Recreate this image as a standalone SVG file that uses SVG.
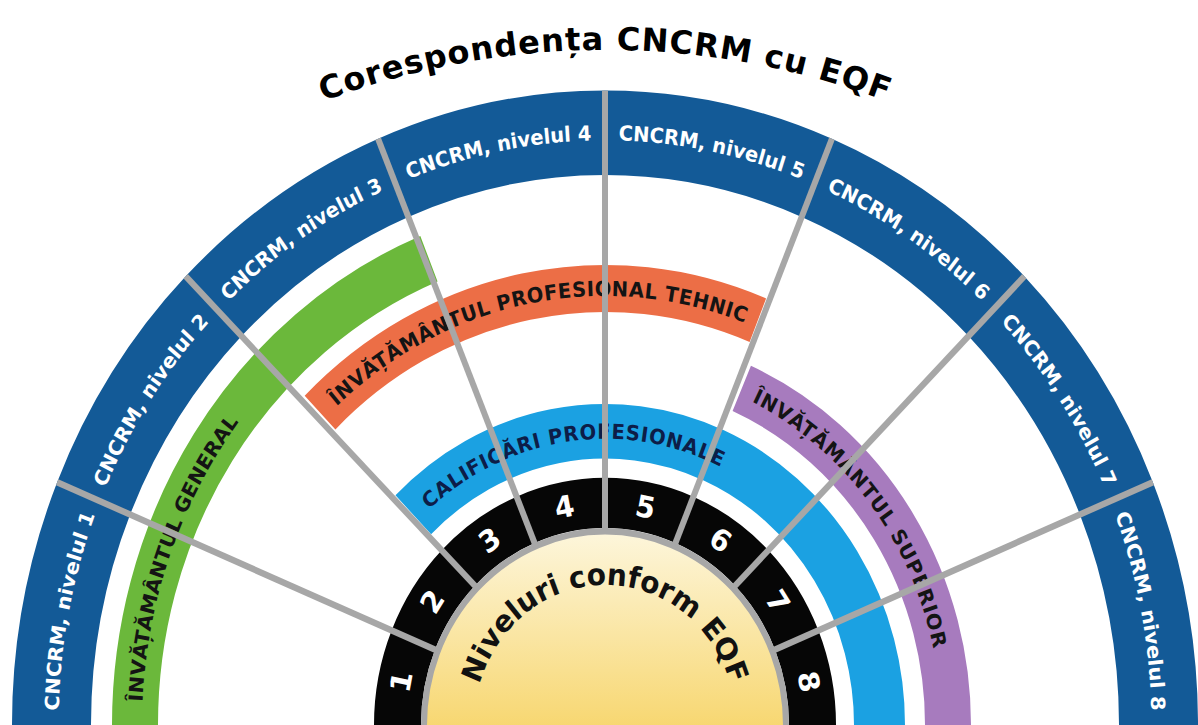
<svg xmlns="http://www.w3.org/2000/svg" width="1198" height="725" viewBox="0 0 1198 725">
<defs>
  <linearGradient id="yel" x1="0" y1="0" x2="0" y2="1">
    <stop offset="0" stop-color="#fdf6dc"/>
    <stop offset="1" stop-color="#f7d56a"/>
  </linearGradient>
  <path id="arcTitle" d="M 41.4,283.4 A 797 797 0 0 1 1168.6,283.4"/>
  <path id="arcOuter" d="M -546.5,0 A 546.5 546.5 0 0 1 546.5,0"/>
  <path id="arcGreen" d="M -463,0 A 463 463 0 0 1 463,0"/>
  <path id="arcOrange" d="M -401,0 A 401 401 0 0 1 401,0"/>
  <path id="arcPurple" d="M -336,0 A 336 336 0 0 1 336,0"/>
  <path id="arcCyan" d="M -267.5,0 A 267.5 267.5 0 0 1 267.5,0"/>
  <path id="arcInner" d="M -131,0 A 131 131 0 0 1 131,0"/>
</defs>
<style>
  .f { font-family: "DejaVu Sans", Verdana, sans-serif; font-weight: bold; }
  .seg { fill: none; stroke: #135a97; stroke-width: 79; }
  .blk { fill: none; stroke: #060606; stroke-width: 47; }
  .wl { fill: #ffffff; font-size: 19.5px; text-anchor: middle; }
  .num { fill: #ffffff; font-size: 28px; text-anchor: middle; }
  .bl { fill: #141414; font-size: 19.5px; text-anchor: middle; }
  .div line { stroke: #a7a7a7; stroke-width: 6; }
</style>
<rect width="1198" height="725" fill="#ffffff"/>

<g id="title">
  <text class="f" font-size="32" fill="#000" text-anchor="middle"><textPath href="#arcTitle" startOffset="50%" textLength="575">Corespondența CNCRM cu EQF</textPath></text>
</g>

<g transform="translate(605,725) scale(1,1.07)">
  <g id="cncrm-1"><path class="seg" d="M -553.42,9.66 A 553.5 553.5 0 0 1 -511.37,-211.81"/>
    <text class="f wl"><textPath href="#arcOuter" startOffset="6.25%">CNCRM, nivelul 1</textPath></text></g>
  <g id="cncrm-2"><path class="seg" d="M -511.37,-211.81 A 553.5 553.5 0 0 1 -391.39,-391.39"/>
    <text class="f wl"><textPath href="#arcOuter" startOffset="18.75%">CNCRM, nivelul 2</textPath></text></g>
  <g id="cncrm-3"><path class="seg" d="M -391.39,-391.39 A 553.5 553.5 0 0 1 -211.81,-511.37"/>
    <text class="f wl"><textPath href="#arcOuter" startOffset="31.25%">CNCRM, nivelul 3</textPath></text></g>
  <g id="cncrm-4"><path class="seg" d="M -211.81,-511.37 A 553.5 553.5 0 0 1 0,-553.5"/>
    <text class="f wl"><textPath href="#arcOuter" startOffset="43.75%">CNCRM, nivelul 4</textPath></text></g>
  <g id="cncrm-5"><path class="seg" d="M 0,-553.5 A 553.5 553.5 0 0 1 211.81,-511.37"/>
    <text class="f wl"><textPath href="#arcOuter" startOffset="56.25%">CNCRM, nivelul 5</textPath></text></g>
  <g id="cncrm-6"><path class="seg" d="M 211.81,-511.37 A 553.5 553.5 0 0 1 391.39,-391.39"/>
    <text class="f wl"><textPath href="#arcOuter" startOffset="68.75%">CNCRM, nivelul 6</textPath></text></g>
  <g id="cncrm-7"><path class="seg" d="M 391.39,-391.39 A 553.5 553.5 0 0 1 511.37,-211.81"/>
    <text class="f wl"><textPath href="#arcOuter" startOffset="81.25%">CNCRM, nivelul 7</textPath></text></g>
  <g id="cncrm-8"><path class="seg" d="M 511.37,-211.81 A 553.5 553.5 0 0 1 553.42,9.66"/>
    <text class="f wl"><textPath href="#arcOuter" startOffset="93.75%">CNCRM, nivelul 8</textPath></text></g>

  <g id="invatamantul-general">
    <path fill="none" stroke="#6bb83b" stroke-width="46" d="M -469.93,8.20 A 470 470 0 0 1 -176.07,-435.78"/>
    <text class="f bl"><textPath href="#arcGreen" startOffset="163.2" textLength="283">ÎNVĂȚĂMÂNTUL GENERAL</textPath></text>
  </g>
  <g id="invatamantul-profesional-tehnic">
    <path fill="none" stroke="#ec6e46" stroke-width="44" d="M -284.95,-292.00 A 408 408 0 0 1 152.84,-378.29"/>
    <text class="f bl"><textPath href="#arcOrange" startOffset="553.9" textLength="437">ÎNVĂȚĂMÂNTUL PROFESIONAL TEHNIC</textPath></text>
  </g>
  <g id="invatamantul-superior">
    <path fill="none" stroke="#a77bbe" stroke-width="46" d="M 136.77,-314.55 A 343 343 0 0 1 342.95,5.99"/>
    <text class="f bl"><textPath href="#arcPurple" startOffset="831.3" textLength="304">ÎNVĂȚĂMÂNTUL SUPERIOR</textPath></text>
  </g>
  <g id="calificari-profesionale">
    <path fill="none" stroke="#1ba1e2" stroke-width="51" d="M -191.72,-196.46 A 274.5 274.5 0 0 1 274.46,4.79"/>
    <text class="f bl" style="fill:#0d1d48"><textPath href="#arcCyan" startOffset="383.8" textLength="312">CALIFICĂRI PROFESIONALE</textPath></text>
  </g>

  <g id="eqf-1"><path class="blk" d="M -207.47,3.62 A 207.5 207.5 0 0 1 -191.70,-79.41"/>
    <text class="f num" transform="rotate(-78.75)" x="0" y="-198">1</text></g>
  <g id="eqf-2"><path class="blk" d="M -191.70,-79.41 A 207.5 207.5 0 0 1 -146.73,-146.73"/>
    <text class="f num" transform="rotate(-56.25)" x="0" y="-198">2</text></g>
  <g id="eqf-3"><path class="blk" d="M -146.73,-146.73 A 207.5 207.5 0 0 1 -79.41,-191.70"/>
    <text class="f num" transform="rotate(-33.75)" x="0" y="-198">3</text></g>
  <g id="eqf-4"><path class="blk" d="M -79.41,-191.70 A 207.5 207.5 0 0 1 0,-207.5"/>
    <text class="f num" transform="rotate(-11.25)" x="0" y="-198">4</text></g>
  <g id="eqf-5"><path class="blk" d="M 0,-207.5 A 207.5 207.5 0 0 1 79.41,-191.70"/>
    <text class="f num" transform="rotate(11.25)" x="0" y="-198">5</text></g>
  <g id="eqf-6"><path class="blk" d="M 79.41,-191.70 A 207.5 207.5 0 0 1 146.73,-146.73"/>
    <text class="f num" transform="rotate(33.75)" x="0" y="-198">6</text></g>
  <g id="eqf-7"><path class="blk" d="M 146.73,-146.73 A 207.5 207.5 0 0 1 191.70,-79.41"/>
    <text class="f num" transform="rotate(56.25)" x="0" y="-198">7</text></g>
  <g id="eqf-8"><path class="blk" d="M 191.70,-79.41 A 207.5 207.5 0 0 1 207.47,3.62"/>
    <text class="f num" transform="rotate(78.75)" x="0" y="-198">8</text></g>

  <g id="niveluri-eqf">
    <path fill="url(#yel)" stroke="#a7a7a7" stroke-width="6" d="M -181,0 A 181 181 0 0 1 181,0 L 181,14 L -181,14 Z"/>
    <text class="f" font-size="28" fill="#111" text-anchor="middle"><textPath href="#arcInner" startOffset="50%" textLength="335">Niveluri conform EQF</textPath></text>
  </g>

  <g id="connectors" class="div">
    <line x1="-166.30" y1="-68.88" x2="-547.86" y2="-226.93"/>
    <line x1="-127.28" y1="-127.28" x2="-419.31" y2="-419.31"/>
    <line x1="-68.88" y1="-166.30" x2="-226.93" y2="-547.86"/>
    <line x1="0" y1="-180" x2="0" y2="-593"/>
    <line x1="68.88" y1="-166.30" x2="226.93" y2="-547.86"/>
    <line x1="127.28" y1="-127.28" x2="419.31" y2="-419.31"/>
    <line x1="166.30" y1="-68.88" x2="547.86" y2="-226.93"/>
  </g>
</g>
</svg>
